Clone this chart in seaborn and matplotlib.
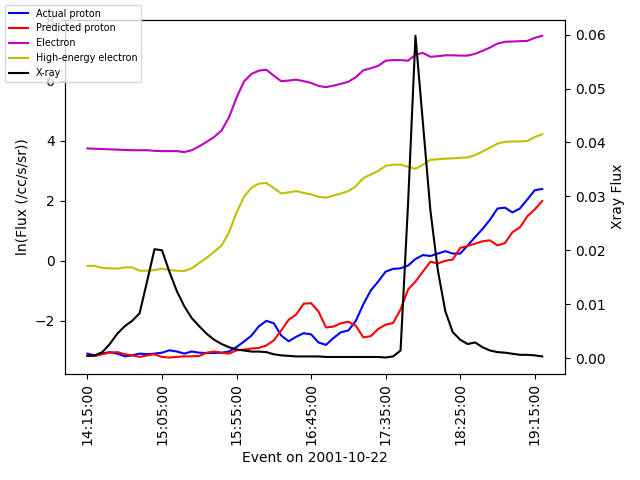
import numpy as np
import pandas as pd
import matplotlib
matplotlib.use("Agg")
import matplotlib.pyplot as plt
import seaborn as sns

# 5-minute samples, 14:15 -> 19:20 on 2001-10-22
times = pd.date_range("2001-10-22 14:15:00", periods=62, freq="5min").strftime("%H:%M:%S").tolist()

actual_proton = [
    -3.09, -3.15, -3.09, -3.04, -3.09, -3.18, -3.15, -3.09, -3.11, -3.09,
    -3.06, -2.98, -3.02, -3.09, -3.02, -3.06, -3.07, -3.07, -3.06, -3.02,
    -2.87, -2.69, -2.49, -2.18, -2.00, -2.08, -2.49, -2.68, -2.53, -2.41,
    -2.45, -2.72, -2.80, -2.57, -2.38, -2.32, -2.00, -1.45, -0.99, -0.69,
    -0.36, -0.27, -0.25, -0.16, 0.06, 0.19, 0.16, 0.24, 0.32, 0.24,
    0.24, 0.51, 0.79, 1.06, 1.37, 1.74, 1.77, 1.61, 1.74, 2.04,
    2.35, 2.39]

predicted_proton = [
    -3.15, -3.17, -3.11, -3.06, -3.04, -3.11, -3.15, -3.20, -3.15, -3.11,
    -3.20, -3.22, -3.20, -3.18, -3.18, -3.17, -3.06, -3.02, -3.06, -3.09,
    -2.98, -2.96, -2.92, -2.90, -2.82, -2.65, -2.32, -1.96, -1.79, -1.43,
    -1.41, -1.69, -2.22, -2.19, -2.08, -2.03, -2.16, -2.55, -2.51, -2.27,
    -2.13, -2.07, -1.62, -0.96, -0.69, -0.36, -0.03, -0.09, 0.00, 0.04,
    0.43, 0.49, 0.57, 0.65, 0.68, 0.51, 0.59, 0.95, 1.11, 1.48,
    1.71, 1.99]

electron = [
    3.74, 3.73, 3.72, 3.71, 3.70, 3.69, 3.68, 3.68, 3.68, 3.66,
    3.65, 3.65, 3.65, 3.62, 3.68, 3.81, 3.96, 4.12, 4.34, 4.78,
    5.43, 5.97, 6.22, 6.33, 6.36, 6.16, 5.98, 6.00, 6.03, 5.98,
    5.92, 5.82, 5.78, 5.83, 5.89, 5.96, 6.11, 6.34, 6.41, 6.49,
    6.66, 6.68, 6.68, 6.66, 6.86, 6.92, 6.79, 6.81, 6.84, 6.84,
    6.83, 6.83, 6.89, 6.99, 7.10, 7.23, 7.29, 7.30, 7.31, 7.32,
    7.42, 7.49]

high_energy_electron = [
    -0.17, -0.17, -0.24, -0.25, -0.26, -0.22, -0.22, -0.33, -0.33, -0.31,
    -0.26, -0.31, -0.33, -0.34, -0.25, -0.07, 0.10, 0.30, 0.51, 0.95,
    1.60, 2.13, 2.43, 2.57, 2.59, 2.42, 2.24, 2.28, 2.32, 2.26,
    2.21, 2.13, 2.10, 2.17, 2.24, 2.32, 2.48, 2.75, 2.87, 2.99,
    3.16, 3.20, 3.20, 3.13, 3.06, 3.20, 3.36, 3.38, 3.40, 3.41,
    3.43, 3.44, 3.52, 3.64, 3.77, 3.90, 3.96, 3.97, 3.97, 3.99,
    4.12, 4.21]

xray = [
    0.0004, 0.0005, 0.0011, 0.0026, 0.0045, 0.0059, 0.0069, 0.0083, 0.0142, 0.0202,
    0.0200, 0.0160, 0.0124, 0.0096, 0.0074, 0.0059, 0.0045, 0.0034, 0.0026, 0.0020,
    0.0016, 0.0014, 0.0012, 0.0012, 0.0011, 0.0007, 0.0005, 0.0004, 0.0003, 0.0003,
    0.0003, 0.0003, 0.0002, 0.0002, 0.0002, 0.0002, 0.0002, 0.0002, 0.0002, 0.0002,
    0.0001, 0.0003, 0.0014, 0.0285, 0.0598, 0.0436, 0.0274, 0.0163, 0.0087, 0.0048,
    0.0034, 0.0026, 0.0029, 0.0020, 0.0014, 0.0011, 0.0010, 0.0008, 0.0006, 0.0006,
    0.0005, 0.0003]

df = pd.DataFrame({
    "idx": np.arange(len(times)),
    "time": times,
    "Actual proton": actual_proton,
    "Predicted proton": predicted_proton,
    "Electron": electron,
    "High-energy electron": high_energy_electron,
    "X-ray": xray,
})

fig, ax = plt.subplots(figsize=(6.4, 4.8), dpi=100)

sns.lineplot(data=df, x="idx", y="Actual proton", color="b", label="Actual proton", ax=ax, legend=False)
sns.lineplot(data=df, x="idx", y="Predicted proton", color="r", label="Predicted proton", ax=ax, legend=False)
sns.lineplot(data=df, x="idx", y="Electron", color="m", label="Electron", ax=ax, legend=False)
sns.lineplot(data=df, x="idx", y="High-energy electron", color="y", label="High-energy electron", ax=ax, legend=False)
ax.set_ylabel("ln(Flux (/cc/s/sr))")
ax.set_xlabel("Event on 2001-10-22")

ax2 = ax.twinx()
sns.lineplot(data=df, x="idx", y="X-ray", color="k", label="X-ray", ax=ax2, legend=False)
ax2.set_ylabel("Xray Flux")

tick_pos = df["idx"].values[::10]
ax.set_xticks(tick_pos)
ax.set_xticklabels(df["time"].values[::10], rotation=90)

h1, l1 = ax.get_legend_handles_labels()
h2, l2 = ax2.get_legend_handles_labels()
fig.legend(h1 + h2, l1 + l2, loc="upper left", fontsize="x-small")

plt.tight_layout()
plt.savefig("out.png", dpi=100)
